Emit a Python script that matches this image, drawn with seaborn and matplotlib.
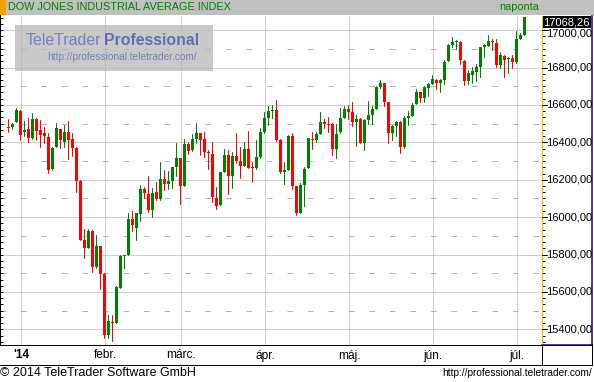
import numpy as np
import pandas as pd
import matplotlib
matplotlib.use("Agg")
import matplotlib.pyplot as plt
from matplotlib.patches import Rectangle
import seaborn as sns

# ---------------- data ----------------
holidays = ["2014-01-01", "2014-01-20", "2014-02-17", "2014-04-18", "2014-05-26"]
dates = pd.bdate_range("2013-12-27", "2014-07-03", freq="C", holidays=holidays)

opens = [16483, 16484, 16511, 16570, 16457, 16471, 16425, 16525, 16466, 16450,
         16430, 16259, 16377, 16471, 16404, 16455, 16418, 16370, 16196, 15877,
         15836, 15927, 15735, 15845, 15695, 15369, 15440, 15436, 15623, 15794,
         15800, 15989, 15943, 16018, 16150, 16123, 16037, 16132, 16096, 16204,
         16179, 16193, 16268, 16316, 16168, 16391, 16357, 16418, 16450, 16418,
         16350, 16337, 16103, 16066, 16241, 16332, 16220, 16327, 16300, 16275,
         16364, 16266, 16262, 16321, 16455, 16532, 16568, 16575, 16414, 16244,
         16253, 16435, 16167, 16024, 16172, 16265, 16419, 16410, 16446, 16511,
         16500, 16500, 16362, 16453, 16532, 16580, 16561, 16507, 16527, 16398,
         16518, 16548, 16580, 16695, 16715, 16614, 16448, 16489, 16511, 16374,
         16532, 16543, 16607, 16669, 16636, 16692, 16714, 16735, 16719, 16735,
         16836, 16922, 16940, 16938, 16836, 16730, 16762, 16778, 16804, 16908,
         16916, 16943, 16932, 16815, 16863, 16845, 16849, 16828, 16954, 16975]
highs = [16525, 16505, 16582, 16575, 16514, 16530, 16557, 16530, 16520, 16484,
         16450, 16377, 16504, 16473, 16493, 16514, 16450, 16375, 16197, 15939,
         15939, 15929, 15903, 15848, 15704, 15475, 15475, 15630, 15796, 15800,
         16023, 16032, 16022, 16171, 16159, 16220, 16155, 16189, 16295, 16252,
         16245, 16270, 16396, 16318, 16418, 16404, 16443, 16504, 16452, 16457,
         16359, 16402, 16161, 16243, 16364, 16359, 16346, 16450, 16375, 16402,
         16461, 16295, 16412, 16477, 16564, 16596, 16600, 16629, 16419, 16296,
         16438, 16451, 16169, 16181, 16269, 16425, 16457, 16457, 16564, 16523,
         16537, 16502, 16500, 16584, 16593, 16600, 16616, 16548, 16529, 16523,
         16623, 16593, 16704, 16736, 16720, 16616, 16493, 16516, 16513, 16543,
         16570, 16612, 16687, 16671, 16700, 16719, 16758, 16737, 16739, 16838,
         16924, 16963, 16950, 16940, 16838, 16785, 16801, 16820, 16910, 16925,
         16975, 16954, 16954, 16881, 16865, 16856, 16868, 16998, 16986, 17071]
lows = [16457, 16473, 16507, 16414, 16436, 16402, 16420, 16414, 16377, 16395,
        16237, 16254, 16373, 16370, 16375, 16312, 16327, 16136, 15876, 15782,
        15834, 15707, 15727, 15616, 15352, 15353, 15336, 15432, 15620, 15728,
        15798, 15925, 15877, 15980, 16103, 16027, 16002, 16091, 16094, 16145,
        16150, 16157, 16221, 16071, 16165, 16339, 16355, 16398, 16334, 16321,
        16257, 16082, 16045, 16064, 16239, 16123, 16157, 16289, 16211, 16273,
        16262, 16189, 16260, 16319, 16452, 16493, 16528, 16408, 16237, 16179,
        16251, 16153, 16011, 16022, 16061, 16263, 16366, 16400, 16444, 16475,
        16453, 16333, 16314, 16451, 16530, 16523, 16485, 16378, 16396, 16357,
        16500, 16496, 16578, 16693, 16593, 16394, 16414, 16435, 16342, 16370,
        16495, 16541, 16605, 16618, 16618, 16646, 16712, 16687, 16671, 16710,
        16834, 16909, 16897, 16820, 16705, 16714, 16719, 16730, 16751, 16858,
        16914, 16895, 16804, 16797, 16748, 16772, 16797, 16826, 16952, 16973]
closes = [16478, 16499, 16573, 16439, 16468, 16425, 16525, 16462, 16441, 16436,
          16253, 16370, 16477, 16414, 16455, 16414, 16371, 16195, 15878, 15836,
          15927, 15732, 15845, 15695, 15369, 15443, 15435, 15625, 15791, 15797,
          15989, 15957, 16020, 16150, 16130, 16037, 16128, 16096, 16204, 16179,
          16193, 16268, 16316, 16168, 16391, 16355, 16418, 16450, 16414, 16350,
          16341, 16107, 16061, 16241, 16332, 16220, 16327, 16300, 16275, 16364,
          16264, 16262, 16320, 16455, 16532, 16570, 16572, 16410, 16240, 16253,
          16435, 16167, 16020, 16172, 16258, 16423, 16410, 16446, 16511, 16500,
          16494, 16362, 16446, 16532, 16580, 16561, 16511, 16527, 16398, 16518,
          16548, 16580, 16695, 16715, 16614, 16448, 16489, 16511, 16373, 16531,
          16543, 16602, 16669, 16636, 16698, 16714, 16739, 16719, 16735, 16831,
          16922, 16938, 16943, 16842, 16730, 16772, 16780, 16804, 16908, 16920,
          16943, 16934, 16815, 16865, 16842, 16851, 16828, 16954, 16975, 17068.26]

month_labels = {1: "'14", 2: "febr.", 3: "márc.", 4: "ápr.", 5: "máj.", 6: "jún.", 7: "júl."}
price_ticks = [15400, 15600, 15800, 16000, 16200, 16400, 16600, 16800, 17000]
title = "DOW JONES INDUSTRIAL AVERAGE INDEX"
period = "naponta"
last_label = "17068,26"

# ---------------- style ----------------
sns.set_style("white")
plt.rcParams["font.family"] = ["Liberation Sans", "DejaVu Sans"]

GREEN = "#008000"
RED = "#ff0000"
W, H = 594, 382
PX = 72 / 100  # one pixel in points

df = pd.DataFrame({"date": dates, "open": opens, "high": highs,
                   "low": lows, "close": closes})
df["idx"] = np.arange(len(df))
df["dir"] = np.where(df["close"] >= df["open"], "up", "down")

fig = plt.figure(figsize=(W / 100, H / 100), dpi=100)
fig.patch.set_facecolor("white")


def rect(x0, y0, x1, y1):
    return [x0 / W, 1 - y1 / H, (x1 - x0) / W, (y1 - y0) / H]


YMIN, YMAX = 15316.6, 17081.0
PLOT_TOP, PLOT_BOT = 15, 345


def ypix(v):
    return PLOT_TOP + (YMAX - v) / (YMAX - YMIN) * (PLOT_BOT - PLOT_TOP)


# ---------------- main chart ----------------
ax = fig.add_axes(rect(0, PLOT_TOP, 542, PLOT_BOT))
ax.set_xlim(-2, 133.5)
ax.set_ylim(YMIN, YMAX)
for s in ["top", "right", "bottom"]:
    ax.spines[s].set_visible(False)
ax.spines["left"].set_color("black")
ax.spines["left"].set_linewidth(PX)
ax.set_xticks([])
ax.set_yticks(np.arange(15400 - 200 / 6 * 2, YMAX, 200 / 6))
ax.tick_params(axis="y", direction="in", length=3 * PX, width=PX,
               color="black", labelleft=False, left=True)

for v in price_ticks:
    ax.axhline(v, color="#a0a0a0", lw=PX, ls=(0, (1, 1)), zorder=0)
for v in range(15500, 17001, 200):
    ax.axhline(v, color="#b4b4b4", lw=PX, ls=(0, (5.5, 15)), zorder=0)

month_first = df.groupby(df["date"].dt.to_period("M"))["idx"].first()
month_first = month_first[[p.year == 2014 for p in month_first.index]]
for idx in month_first.values:
    ax.axvline(idx + 0.25, color="#a0a0a0", lw=PX, ls=(0, (1, 1)), zorder=0)

# wicks
wick = pd.concat([
    df[["idx", "low", "dir"]].rename(columns={"low": "price"}),
    df[["idx", "high", "dir"]].rename(columns={"high": "price"}),
]).sort_values("idx", kind="stable")
sns.lineplot(data=wick, x="idx", y="price", units="idx", estimator=None,
             hue="dir", palette={"up": GREEN, "down": RED}, sort=False,
             linewidth=PX, legend=False, ax=ax, zorder=2)
ax.set_xlabel("")
ax.set_ylabel("")

# bodies
body_h = np.maximum(np.abs(df["close"] - df["open"]), 5.5)
body_b = np.minimum(df["open"], df["close"])
small = np.abs(df["close"] - df["open"]) < 5.5
body_b = np.where(small, (df["open"] + df["close"]) / 2 - 2.75, body_b)
ax.bar(df["idx"], body_h, bottom=body_b, width=0.75,
       color=np.where(df["dir"] == "up", GREEN, RED), linewidth=0, zorder=3)

# ---------------- right price axis ----------------
ax2 = fig.add_axes(rect(542, PLOT_TOP, 592, PLOT_BOT))
ax2.set_xlim(0, 50)
ax2.set_ylim(YMIN, YMAX)
ax2.set_facecolor("white")
ax2.spines["top"].set_visible(False)
ax2.spines["left"].set_color("#e8c000")
ax2.spines["left"].set_linestyle((0, (1, 1)))
ax2.spines["left"].set_linewidth(PX)
ax2.spines["right"].set_color("#0000a0")
ax2.spines["right"].set_linewidth(1.5 * PX)
ax2.spines["bottom"].set_color("#0000a0")
ax2.spines["bottom"].set_linewidth(1.5 * PX)
ax2.set_xticks([])
ax2.set_yticks(np.arange(15400 - 200 / 6 * 2, YMAX, 200 / 6))
ax2.tick_params(axis="y", direction="in", length=3 * PX, width=PX,
                color="black", labelleft=False, left=True)
for v in price_ticks:
    ax2.plot([0, 4.5], [v, v], color="black", lw=PX, zorder=3)

# ---------------- overlay in pixel coords ----------------
ov = fig.add_axes([0, 0, 1, 1], facecolor="none")
ov.set_xlim(0, W)
ov.set_ylim(H, 0)
ov.axis("off")

# header
ov.add_patch(Rectangle((0, 0), W, 15, facecolor="#c0c0c0", edgecolor="none"))
ov.add_patch(Rectangle((0, 0), 5.5, 14.5, facecolor="#f5a000", edgecolor="none"))
ov.text(7.5, 7.3, title, fontsize=7.8, color=GREEN, va="center", ha="left")
ov.text(539, 7.3, period, fontsize=7.8, color=GREEN, va="center", ha="right")

# last price box
BOX_TOP, BOX_H = 15.5, 12.5
ov.add_patch(Rectangle((543, BOX_TOP), 47.5, BOX_H, facecolor="black",
                       edgecolor="none", zorder=5))
ov.text(566.5, BOX_TOP + BOX_H / 2 + 0.3, last_label, fontsize=8, color="white",
        va="center", ha="center", zorder=6)

# price tick labels (pushed just below the price box if they would touch it)
for v in price_ticks:
    yc = max(ypix(v), BOX_TOP + BOX_H + 5.2)
    ov.text(546, yc, f"{v:,.2f}".replace(",", "").replace(".", ","),
            fontsize=8, color="black", va="center", ha="left", zorder=4)

# watermark
ov.add_patch(Rectangle((15, 25), 198, 46, facecolor="#b8b8b8",
                       edgecolor="none", alpha=0.75, zorder=1))
ov.text(26, 40.5, "TeleTrader", fontsize=11.4, color="#7282bb",
        va="center", ha="left", zorder=2)
ov.text(104, 40.5, "Professional", fontsize=11.4, color="#5f70b2",
        fontweight="bold", va="center", ha="left", zorder=2)
ov.text(47, 57, "http://professional.teletrader.com/", fontsize=7.3,
        color="#7282bb", va="center", ha="left", zorder=2)

# x label band
ov.plot([0, 592], [345, 345], color="black", lw=PX)
ov.plot([0, 592], [364.5, 364.5], color="black", lw=PX)
ov.plot([542, 542], [345, 364.5], color="black", lw=PX)
ov.plot([591.5, 591.5], [345, 364.5], color="black", lw=PX)
for per, idx in month_first.items():
    xpix = 8 + 4 * idx + 1
    ov.text(xpix, 355.5, month_labels[per.month], fontsize=8.6, color="black",
            va="center", ha="center",
            fontweight="bold" if per.month == 1 else "normal")

# footer
ov.text(0.5, 373.5, "© 2014 TeleTrader Software GmbH", fontsize=9,
        color="black", va="center", ha="left")
ov.text(592, 373.5, "http://professional.teletrader.com/", fontsize=7.3,
        color="black", va="center", ha="right")

fig.savefig("out.png", dpi=100)
